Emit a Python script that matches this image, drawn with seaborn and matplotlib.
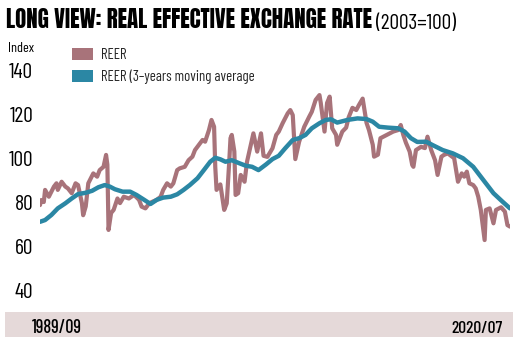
import numpy as np
import pandas as pd
import matplotlib
matplotlib.use("Agg")
import matplotlib.pyplot as plt
from matplotlib.patches import Patch, Rectangle
from matplotlib import font_manager as fm
import seaborn as sns

# ---------------- data ----------------
reer_dates = [
    "1989-09", "1989-10", "1989-12", "1990-01", "1990-04", "1990-08", "1990-10", "1990-11",
    "1991-02", "1991-05", "1991-07", "1991-10", "1992-01", "1992-03", "1992-06", "1992-07",
    "1992-09", "1992-11", "1993-03", "1993-06", "1993-08", "1993-11", "1994-01", "1994-02",
    "1994-03", "1994-05", "1994-07", "1994-10", "1994-12", "1995-03", "1995-07", "1995-11",
    "1996-03", "1996-05", "1996-08", "1996-11", "1997-01", "1997-05", "1997-08", "1997-10",
    "1998-01", "1998-04", "1998-06", "1998-09", "1998-11", "1999-03", "1999-06", "1999-09",
    "1999-11", "2000-02", "2000-05", "2000-07", "2000-10", "2000-12", "2001-02", "2001-03",
    "2001-04", "2001-07", "2001-10", "2001-12", "2002-02", "2002-03", "2002-04", "2002-06",
    "2002-07", "2002-09", "2002-11", "2003-02", "2003-04", "2003-07", "2003-09", "2003-12",
    "2004-03", "2004-05", "2004-08", "2004-12", "2005-03", "2005-05", "2005-08", "2005-12",
    "2006-02", "2006-04", "2006-06", "2006-09", "2007-01", "2007-05", "2007-07", "2007-10",
    "2008-01", "2008-02", "2008-05", "2008-07", "2008-09", "2008-11", "2009-02", "2009-03",
    "2009-07", "2009-10", "2009-12", "2010-03", "2010-06", "2010-08", "2010-11", "2011-02",
    "2011-04", "2011-07", "2011-08", "2011-11", "2012-01", "2012-07", "2012-11", "2013-03",
    "2013-05", "2013-07", "2013-09", "2013-12", "2014-02", "2014-03", "2014-05", "2014-09",
    "2014-12", "2015-02", "2015-05", "2015-08", "2015-10", "2016-01", "2016-03", "2016-06",
    "2016-09", "2016-11", "2017-02", "2017-05", "2017-07", "2017-09", "2017-11", "2018-02",
    "2018-04", "2018-06", "2018-08", "2018-11", "2018-12", "2019-03", "2019-06", "2019-08",
    "2019-12", "2020-03", "2020-05", "2020-07",
]
reer_values = [
    78.6, 80.9, 80.0, 85.5, 82.4, 87.0, 88.5, 85.5,
    89.2, 87.0, 86.2, 84.0, 88.5, 87.7, 79.5, 74.0,
    78.0, 88.5, 93.0, 91.5, 94.5, 96.0, 101.4, 97.0,
    67.3, 75.0, 76.4, 81.6, 79.5, 82.4, 81.6, 83.2,
    81.0, 77.9, 77.1, 79.4, 80.0, 81.0, 82.4, 85.5,
    88.5, 87.0, 88.5, 94.5, 95.3, 96.0, 99.0, 100.6,
    103.6, 105.9, 108.2, 107.4, 112.7, 117.3, 114.2, 96.0,
    85.5, 88.0, 76.4, 79.4, 99.0, 109.0, 110.5, 103.0,
    83.2, 84.0, 92.3, 89.2, 98.3, 105.9, 111.2, 102.9,
    111.2, 101.0, 100.5, 104.4, 110.5, 112.0, 115.8, 120.3,
    121.8, 119.5, 99.5, 107.4, 114.2, 118.8, 121.0, 126.4,
    128.6, 125.0, 112.0, 125.0, 127.9, 113.5, 110.5, 106.0,
    112.0, 113.8, 118.5, 122.8, 121.8, 124.0, 127.0, 116.0,
    112.7, 106.0, 100.6, 101.5, 109.0, 110.8, 112.0, 112.7,
    115.0, 110.5, 107.0, 102.9, 96.8, 96.0, 103.6, 105.1,
    104.5, 109.7, 103.6, 99.0, 92.3, 100.6, 101.4, 102.1,
    100.8, 99.9, 89.2, 93.0, 91.5, 93.8, 88.5, 87.7,
    86.2, 82.4, 76.4, 62.7, 76.4, 77.1, 70.3, 76.4,
    77.6, 75.6, 69.5, 68.8,
]

ma_dates = [
    "1989-09", "1990-01", "1990-06", "1990-11", "1991-05", "1991-10", "1992-03", "1992-09",
    "1993-02", "1993-07", "1993-12", "1994-04", "1994-08", "1995-02", "1995-08", "1996-01",
    "1996-07", "1996-12", "1997-05", "1997-10", "1998-04", "1998-09", "1999-02", "1999-07",
    "2000-01", "2000-06", "2000-11", "2001-03", "2001-07", "2001-11", "2002-04", "2002-10",
    "2003-03", "2003-08", "2004-01", "2004-07", "2004-12", "2005-05", "2005-10", "2006-04",
    "2006-09", "2007-02", "2007-07", "2008-01", "2008-06", "2008-10", "2009-03", "2009-11",
    "2010-07", "2011-02", "2011-07", "2011-12", "2012-07", "2013-03", "2013-08", "2014-01",
    "2014-06", "2015-01", "2015-06", "2016-02", "2016-10", "2017-06", "2018-02", "2018-10",
    "2019-06", "2020-01", "2020-07",
]
ma_values = [
    71.0, 71.8, 74.1, 77.1, 79.4, 81.6, 83.6, 84.2,
    85.1, 86.7, 87.7, 87.0, 85.8, 84.7, 84.7, 83.2,
    81.0, 79.1, 81.0, 82.0, 82.4, 83.5, 85.5, 87.7,
    90.8, 94.5, 98.3, 100.1, 99.4, 98.3, 99.0, 97.6,
    96.5, 96.0, 94.5, 97.1, 99.5, 101.0, 104.4, 108.2,
    109.0, 110.5, 113.5, 115.8, 117.3, 117.6, 116.1, 117.3,
    118.0, 117.7, 116.5, 114.2, 113.8, 113.5, 112.0, 109.0,
    107.3, 107.4, 105.9, 103.6, 102.1, 99.9, 96.0, 90.0,
    84.0, 80.2, 77.1,
]

series_labels = ["REER", "REER (3\u2013years moving average"]
y_ticks = [40, 60, 80, 100, 120, 140]
start_label = "1989/09"
end_label = "2020/07"
title_main = "LONG VIEW: REAL EFFECTIVE EXCHANGE RATE"
title_sub = "(2003=100)"

# ---------------- style ----------------
PINK = "#a8737a"
TEAL = "#2b87a4"
BAND = "#e5d9d9"

sns.set_theme(style="white")
available = {f.name for f in fm.fontManager.ttflist}
cond_pref = [n for n in ["Barlow Condensed", "Roboto Condensed", "Archivo Narrow",
                         "Liberation Sans Narrow"] if n in available]
FAM = cond_pref + ["DejaVu Sans"]
title_pref = [n for n in ["Anton", "Bebas Neue", "Barlow Condensed"] if n in available]
TFAM = title_pref + ["DejaVu Sans"]
plt.rcParams["font.family"] = FAM

W, H = 522, 349
fig = plt.figure(figsize=(W / 100, H / 100), dpi=100)
fig.patch.set_facecolor("white")


def fx(px):
    return px / W


def fy(py):
    return 1 - py / H


# axes: 145 at y=59px, 35 at y=301px; x from 40 to 510 px
ax = fig.add_axes([fx(40), fy(301), fx(510) - fx(40), fy(59) - fy(301)])
ax.set_facecolor("none")

df_reer = pd.DataFrame({"date": pd.to_datetime(reer_dates), "value": reer_values})
df_ma = pd.DataFrame({"date": pd.to_datetime(ma_dates), "value": ma_values})

sns.lineplot(data=df_reer, x="date", y="value", ax=ax, color=PINK, linewidth=3.0,
             solid_joinstyle="round", solid_capstyle="round")
sns.lineplot(data=df_ma, x="date", y="value", ax=ax, color=TEAL, linewidth=3.2,
             solid_joinstyle="round", solid_capstyle="round")

ax.set_xlim(pd.Timestamp("1989-09-01"), pd.Timestamp("2020-07-01"))
ax.set_ylim(35, 145)
ax.set_yticks(y_ticks)
ax.set_yticklabels([str(t) for t in y_ticks])
ax.tick_params(axis="y", length=0, pad=5, labelsize=15.5, labelcolor="black")
ax.set_xticks([])
ax.set_xlabel("")
ax.set_ylabel("")
for s in ax.spines.values():
    s.set_visible(False)
ax.grid(False)

# bottom band
fig.patches.append(Rectangle((fx(5), fy(337)), fx(513) - fx(5), fy(312) - fy(337),
                             transform=fig.transFigure, facecolor=BAND, edgecolor="none",
                             zorder=0))
t_start = fig.text(fx(32), fy(333), start_label, fontsize=15, va="baseline", ha="left",
                   color="black", fontweight="medium")
t_end = fig.text(fx(503), fy(333), end_label, fontsize=15, va="baseline", ha="right",
                 color="black", fontweight="medium")

# title
t1 = fig.text(fx(6), fy(28), title_main, fontsize=17, fontweight="bold", va="baseline",
              ha="left", color="black", family=TFAM)
t2 = fig.text(fx(376), fy(29), title_sub, fontsize=14, va="baseline", ha="left",
              color="black")

# "Index"
t_idx = fig.text(fx(8), fy(52), "Index", fontsize=10.5, va="baseline", ha="left",
                 color="black")

# legend
handles = [Patch(facecolor=PINK, edgecolor="none", label=series_labels[0]),
           Patch(facecolor=TEAL, edgecolor="none", label=series_labels[1])]
leg = fig.legend(handles=handles, loc="upper left", bbox_to_anchor=(fx(72), fy(48)),
                 frameon=False, handlelength=1.45, handleheight=0.9,
                 handletextpad=0.5, labelspacing=0.5, borderpad=0, borderaxespad=0,
                 prop={"size": 10.6})


def fit_width(t, target_px, max_scale=1.6):
    fig.canvas.draw()
    w = t.get_window_extent().width
    if w > 0:
        s = min(max(target_px / w, 0.5), max_scale)
        t.set_fontsize(t.get_fontsize() * s)


fit_width(t1, 366)
fit_width(t2, 80)
fit_width(t_start, 50)
fit_width(t_end, 51)
fit_width(t_idx, 26)

fig.savefig("out.png", dpi=100)
